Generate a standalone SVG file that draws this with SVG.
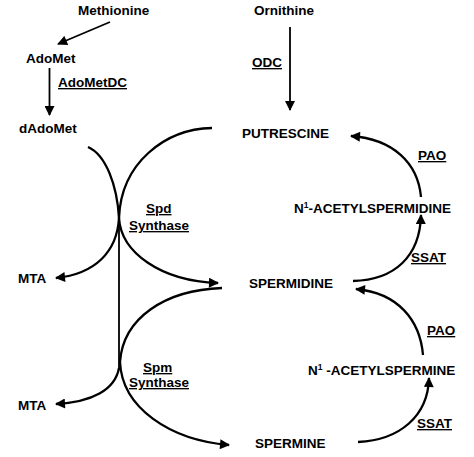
<svg xmlns="http://www.w3.org/2000/svg" width="474" height="457" viewBox="0 0 474 457">
<style>
text{font-family:"Liberation Sans",Arial,sans-serif;font-weight:bold;font-size:13.5px;fill:#000}
.u{text-decoration:underline}
.c{fill:none;stroke:#000;stroke-width:2.3}
.t{stroke-width:1.8}
.sup{font-size:8.5px}
</style>
<defs>
<marker id="ah" viewBox="0 0 10 10" refX="9" refY="5" markerWidth="12" markerHeight="10" markerUnits="userSpaceOnUse" orient="auto">
<path d="M0,0 L10,5 L0,10 z" fill="#000"/>
</marker>
</defs>
<rect width="474" height="457" fill="#fff"/>
<g id="connectors">
<path class="c t" d="M110,22 L58,44" marker-end="url(#ah)"/>
<path class="c t" d="M49.5,68 L49.5,115" marker-end="url(#ah)"/>
<path class="c t" d="M290,27 L290,110" marker-end="url(#ah)"/>
<path class="c" d="M212,128 C165,129 121,163 119,218 C121,252 160,281 218,283" marker-end="url(#ah)"/>
<path class="c" d="M88,147 C106,155 117,185 119,218 C117,252 95,274 56,278" marker-end="url(#ah)"/>
<path class="c t" d="M119,218 L119,370"/>
<path class="c" d="M222,288 C165,290 123,318 120,362 C122,408 170,440 229,445" marker-end="url(#ah)"/>
<path class="c" d="M119,368 C115,390 92,402 56,404" marker-end="url(#ah)"/>
<path class="c" d="M353,281 C395,280 420,256 421,215" marker-end="url(#ah)"/>
<path class="c" d="M421,197 C418,163 393,139 351,136" marker-end="url(#ah)"/>
<path class="c" d="M358,442 C400,440 428,416 429,378" marker-end="url(#ah)"/>
<path class="c" d="M423,355 C420,320 398,293 356,289" marker-end="url(#ah)"/>
</g>
<g id="methionine"><text x="78" y="15">Methionine</text></g>
<g id="ornithine"><text x="254" y="15">Ornithine</text></g>
<g id="adomet"><text x="26" y="63">AdoMet</text></g>
<g id="adometdc"><text class="u" x="58" y="87">AdoMetDC</text></g>
<g id="dadomet"><text x="19" y="133">dAdoMet</text></g>
<g id="odc"><text class="u" x="252" y="67">ODC</text></g>
<g id="putrescine"><text x="242" y="138">PUTRESCINE</text></g>
<g id="pao1"><text class="u" x="418" y="160">PAO</text></g>
<g id="acetylspermidine"><text x="294" y="213">N<tspan class="sup" dy="-5">1</tspan><tspan dy="5">-ACETYLSPERMIDINE</tspan></text></g>
<g id="ssat1"><text class="u" x="411" y="262">SSAT</text></g>
<g id="spermidine"><text x="249" y="288">SPERMIDINE</text></g>
<g id="pao2"><text class="u" x="427" y="335">PAO</text></g>
<g id="acetylspermine"><text x="308" y="375">N<tspan class="sup" dy="-5">1</tspan><tspan dy="5"> -ACETYLSPERMINE</tspan></text></g>
<g id="ssat2"><text class="u" x="417" y="428">SSAT</text></g>
<g id="spermine"><text x="255" y="448">SPERMINE</text></g>
<g id="mta1"><text x="18" y="283">MTA</text></g>
<g id="mta2"><text x="18" y="410">MTA</text></g>
<g id="spdsynthase"><text class="u" x="146" y="213">Spd</text><text class="u" x="129" y="230">Synthase</text></g>
<g id="spmsynthase"><text class="u" x="143" y="372">Spm</text><text class="u" x="129" y="387">Synthase</text></g>
</svg>
